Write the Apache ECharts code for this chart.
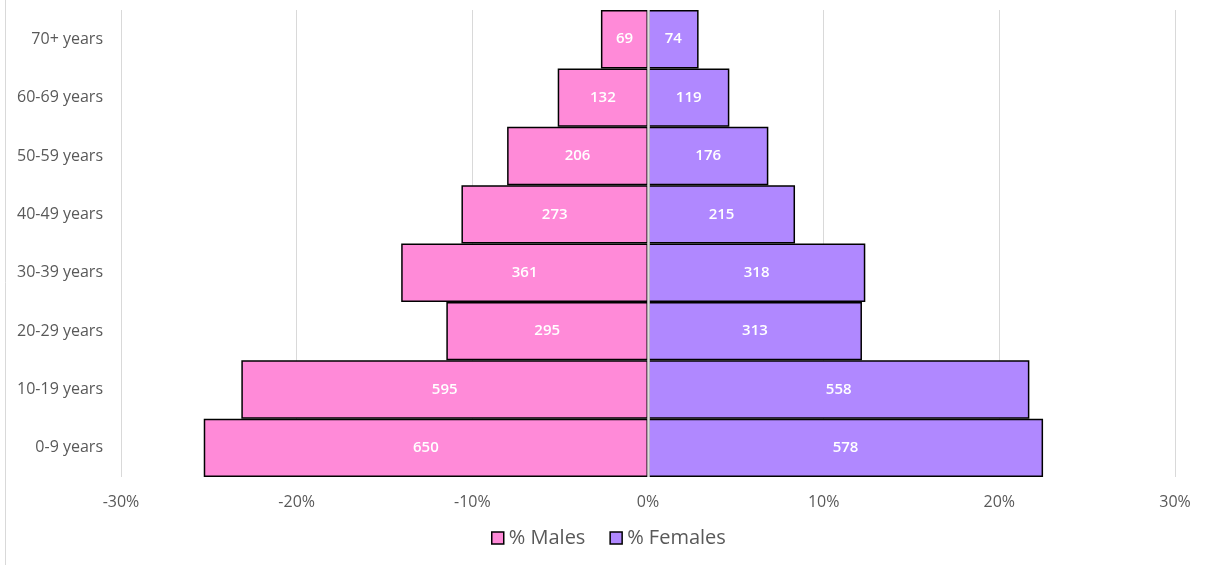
<!DOCTYPE html>
<html><head><meta charset="utf-8">
<script src="https://cdn.jsdelivr.net/npm/echarts@6/dist/echarts.min.js"></script>
<style>html,body{margin:0;padding:0;background:#fff}#c{width:1205px;height:565px}</style>
</head><body><div id="c"></div>
<script>
const categories = ['0-9 years','10-19 years','20-29 years','30-39 years','40-49 years','50-59 years','60-69 years','70+ years'];
const malePct = [25.29, 23.15, 11.48, 14.05, 10.62, 8.02, 5.14, 2.68];
const femalePct = [22.49, 21.71, 12.18, 12.37, 8.37, 6.85, 4.63, 2.88];
const maleCounts = [650, 595, 295, 361, 273, 206, 132, 69];
const femaleCounts = [578, 558, 313, 318, 215, 176, 119, 74];
const xTicks = [-30, -20, -10, 0, 10, 20, 30];

const font = '"Open Sans", "Liberation Sans", sans-serif';
const chart = echarts.init(document.getElementById('c'));
chart.setOption({
  animation: false,
  backgroundColor: '#fff',
  grid: { left: 121, right: 30, top: 10, bottom: 88, containLabel: false },
  legend: {
    bottom: 12, left: 486, itemWidth: 12, itemHeight: 12, itemGap: 24,
    textStyle: { fontFamily: font, fontSize: 20, color: '#595959' },
    data: [
      { name: '% Males', icon: 'rect', itemStyle: { color: '#FF8AD8', borderColor: '#000', borderWidth: 1.5 } },
      { name: '% Females', icon: 'rect', itemStyle: { color: '#B088FF', borderColor: '#000', borderWidth: 1.5 } }
    ]
  },
  xAxis: {
    type: 'value', min: -30, max: 30, interval: 10,
    axisLine: { show: false }, axisTick: { show: false },
    splitLine: { lineStyle: { color: '#d9d9d9', width: 1 } },
    axisLabel: { fontFamily: font, fontSize: 16, color: '#595959', margin: 17,
      formatter: v => (xTicks.includes(v) ? v + '%' : '') }
  },
  yAxis: {
    type: 'category', data: categories,
    axisLine: { show: false }, axisTick: { show: false },
    axisLabel: { fontFamily: font, fontSize: 16, color: '#595959', margin: 18 }
  },
  series: [
    {
      name: '% Males', type: 'bar', stack: 'p', barCategoryGap: 0, z: 3,
      data: malePct.map(v => -v),
      itemStyle: { color: '#FF8AD8', borderColor: '#000', borderWidth: 1.5 },
      label: { show: true, position: 'inside', color: '#fff', fontFamily: font, fontSize: 15, fontWeight: 600,
        formatter: p => maleCounts[p.dataIndex] },
      markLine: { silent: true, symbol: 'none', label: { show: false }, emphasis: { disabled: true },
        lineStyle: { color: '#dcdcdc', type: 'solid', width: 2.5 }, data: [{ xAxis: 0 }] }
    },
    {
      name: '% Females', type: 'bar', stack: 'p', barCategoryGap: 0, z: 2,
      data: femalePct,
      itemStyle: { color: '#B088FF', borderColor: '#000', borderWidth: 1.5 },
      label: { show: true, position: 'inside', color: '#fff', fontFamily: font, fontSize: 15, fontWeight: 600,
        formatter: p => femaleCounts[p.dataIndex] }
    }
  ],
  graphic: [
    { type: 'line', shape: { x1: 5.5, y1: 0, x2: 5.5, y2: 565 }, style: { stroke: '#d9d9d9', lineWidth: 1 } }
  ]
});
</script></body></html>
